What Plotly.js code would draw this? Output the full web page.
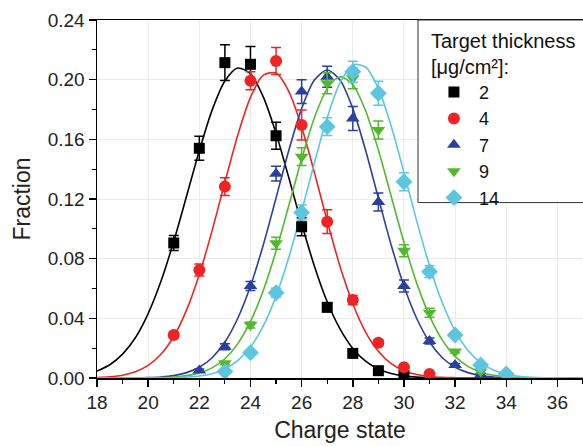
<!DOCTYPE html>
<html>
<head>
<meta charset="utf-8">
<script src="https://cdn.plot.ly/plotly-3.0.1.min.js"></script>
<style>html,body{margin:0;padding:0;background:#fff;}#chart{width:583px;height:446px;}</style>
</head>
<body>
<div id="chart"></div>
<script>
// ---- data ----
const seriesNames = ['2', '4', '7', '9', '14'];

const x2 = [21, 22, 23, 24, 25, 26, 27, 28, 29, 30];
const y2 = [0.0905, 0.154, 0.2114, 0.2103, 0.1624, 0.1014, 0.0474, 0.0165, 0.0049, 0.0016];
const e2 = [0.005, 0.008, 0.012, 0.012, 0.009, 0.006, 0.003, 0.002, 0.001, 0.001];

const x4 = [21, 22, 23, 24, 25, 26, 27, 28, 29, 30, 31];
const y4 = [0.0288, 0.0724, 0.1283, 0.1993, 0.2125, 0.1696, 0.1048, 0.0523, 0.0237, 0.0072, 0.0027];
const e4 = [0.002, 0.004, 0.006, 0.006, 0.009, 0.010, 0.008, 0.003, 0.002, 0.001, 0.001];

const x7 = [22, 23, 24, 25, 26, 27, 28, 29, 30, 31, 32, 33];
const y7 = [0.005, 0.021, 0.0617, 0.137, 0.192, 0.202, 0.174, 0.118, 0.0617, 0.0248, 0.0087, 0.002];
const e7 = [0.001, 0.002, 0.003, 0.005, 0.008, 0.007, 0.008, 0.006, 0.004, 0.002, 0.001, 0.001];

const x9 = [23, 24, 25, 26, 27, 28, 29, 30, 31, 32, 33];
const y9 = [0.0099, 0.0355, 0.0903, 0.1484, 0.1976, 0.2009, 0.1663, 0.0853, 0.0438, 0.0177, 0.0043];
const e9 = [0.001, 0.002, 0.004, 0.006, 0.007, 0.007, 0.006, 0.004, 0.003, 0.001, 0.001];

const x14 = [23, 24, 25, 26, 27, 28, 29, 30, 31, 32, 33, 34];
const y14 = [0.0043, 0.017, 0.0572, 0.111, 0.1685, 0.2053, 0.1909, 0.1316, 0.0713, 0.0288, 0.0087, 0.0027];
const e14 = [0.001, 0.001, 0.003, 0.005, 0.006, 0.007, 0.008, 0.006, 0.004, 0.002, 0.001, 0.001];

// fitted curves, values
const fitX = [18, 18.5, 19, 19.5, 20, 20.5, 21, 21.5, 22, 22.5, 23, 23.5, 24, 24.5, 25, 25.5, 26, 26.5, 27, 27.5,
              28, 28.5, 29, 29.5, 30, 30.5, 31, 31.5, 32, 32.5, 33, 33.5, 34, 34.5, 35, 35.5, 36, 36.5, 37];
const fit2 = [0.0046, 0.0089, 0.0160, 0.0270, 0.0432, 0.0648, 0.0916, 0.1218, 0.1524, 0.1796, 0.1991, 0.2078, 0.2040, 0.1885, 0.1640, 0.1342, 0.1034, 0.0750, 0.0511, 0.0329,
              0.0198, 0.0113, 0.0060, 0.0030, 0.0014, 0.0006, 0.0003, 0.0001, 0, 0, 0, 0, 0, 0, 0, 0, 0, 0, 0];
const fit4 = [0.0003, 0.0008, 0.0019, 0.0042, 0.0085, 0.0159, 0.0278, 0.0455, 0.0694, 0.0988, 0.1312, 0.1626, 0.1881, 0.2030, 0.2044, 0.1920, 0.1683, 0.1377, 0.1052, 0.0749,
              0.0498, 0.0308, 0.0179, 0.0096, 0.0049, 0.0023, 0.0010, 0.0004, 0.0002, 0.0001, 0, 0, 0, 0, 0, 0, 0, 0, 0];
const fit7 = [0, 0, 0, 0.0001, 0.0003, 0.0007, 0.0016, 0.0036, 0.0072, 0.0136, 0.0241, 0.0399, 0.0617, 0.0892, 0.1207, 0.1527, 0.1806, 0.1997, 0.2065, 0.1997,
              0.1806, 0.1527, 0.1207, 0.0892, 0.0617, 0.0399, 0.0241, 0.0136, 0.0072, 0.0036, 0.0016, 0.0007, 0.0003, 0.0001, 0, 0, 0, 0, 0];
const fit9 = [0, 0, 0, 0, 0.0001, 0.0003, 0.0007, 0.0016, 0.0034, 0.0068, 0.0129, 0.0229, 0.0379, 0.0587, 0.0851, 0.1156, 0.1468, 0.1745, 0.1940, 0.2020,
              0.1966, 0.1792, 0.1528, 0.1219, 0.0910, 0.0636, 0.0416, 0.0254, 0.0145, 0.0078, 0.0039, 0.0018, 0.0008, 0.0003, 0.0001, 0, 0, 0, 0];
const fit14 = [0, 0, 0, 0, 0, 0.0001, 0.0002, 0.0006, 0.0013, 0.0029, 0.0060, 0.0116, 0.0207, 0.0349, 0.0549, 0.0809, 0.1117, 0.1443, 0.1746, 0.1978,
               0.2099, 0.2085, 0.1940, 0.1690, 0.1378, 0.1052, 0.0753, 0.0504, 0.0316, 0.0186, 0.0102, 0.0053, 0.0025, 0.0011, 0.0005, 0.0002, 0.0001, 0, 0];

// ---- styling ----
const colors = ['#000000', '#ee2424', '#2b3f9e', '#52b82e', '#5cc6e0'];
const symbols = ['square', 'circle', 'triangle-up', 'triangle-down', 'diamond'];
const sizes = [11, 12, 12, 12, 13];

const pts = [[x2, y2, e2], [x4, y4, e4], [x7, y7, e7], [x9, y9, e9], [x14, y14, e14]];
const fits = [fit2, fit4, fit7, fit9, fit14];

const traces = [];
fits.forEach((f, i) => {
  traces.push({
    x: fitX, y: f, type: 'scatter', mode: 'lines',
    line: {color: colors[i], width: 1.6, shape: 'spline', smoothing: 0.8},
    showlegend: false, hoverinfo: 'skip'
  });
});
pts.forEach((p, i) => {
  traces.push({
    x: p[0], y: p[1], type: 'scatter', mode: 'markers', name: seriesNames[i],
    marker: {color: colors[i], symbol: symbols[i], size: sizes[i]},
    error_y: {type: 'data', array: p[2], visible: true, color: colors[i], thickness: 1.5, width: 5}
  });
});

const fontFam = 'Arial, "Liberation Sans", sans-serif';
const layout = {
  width: 583, height: 446,
  margin: {l: 97, r: 0, t: 20, b: 68},
  paper_bgcolor: '#ffffff', plot_bgcolor: '#ffffff',
  font: {family: fontFam, color: '#222', size: 20},
  xaxis: {
    range: [18, 37], tickmode: 'linear', tick0: 18, dtick: 2,
    showline: true, linecolor: '#000', linewidth: 1.5, mirror: true,
    ticks: 'outside', ticklen: 7, tickwidth: 1.5, tickcolor: '#000',
    minor: {dtick: 1, ticks: 'outside', ticklen: 4, tickwidth: 1.2, tickcolor: '#000', showgrid: false},
    showgrid: true, gridcolor: '#ebebeb', gridwidth: 1, zeroline: false,
    tickfont: {family: fontFam, size: 19, color: '#222'},
    title: {text: 'Charge state', font: {family: fontFam, size: 23, color: '#222'}, standoff: 9}
  },
  yaxis: {
    range: [0, 0.24], tickmode: 'linear', tick0: 0, dtick: 0.04, tickformat: '.2f',
    showline: true, linecolor: '#000', linewidth: 1.5, mirror: true,
    ticks: 'outside', ticklen: 7, tickwidth: 1.5, tickcolor: '#000',
    minor: {dtick: 0.02, ticks: 'outside', ticklen: 4, tickwidth: 1.2, tickcolor: '#000', showgrid: false},
    showgrid: true, gridcolor: '#ebebeb', gridwidth: 1, zeroline: false,
    tickfont: {family: fontFam, size: 19, color: '#222'},
    title: {text: 'Fraction', font: {family: fontFam, size: 23, color: '#222'}, standoff: 10}
  },
  shapes: [{
    type: 'rect', xref: 'paper', yref: 'paper',
    x0: 0.6605, x1: 1.05, y0: 0.49, y1: 1,
    line: {color: '#333', width: 1}, fillcolor: '#ffffff', layer: 'above'
  }],
  legend: {
    x: 0.683, xanchor: 'left', y: 0.995, yanchor: 'top',
    bgcolor: 'rgba(0,0,0,0)', borderwidth: 0,
    font: {family: fontFam, size: 18, color: '#111'},
    title: {text: 'Target thickness<br>[μg/cm²]:', font: {family: fontFam, size: 20, color: '#111'}},
    tracegroupgap: 0, itemwidth: 40
  }
};

Plotly.newPlot('chart', traces, layout, {displayModeBar: false, staticPlot: true});
</script>
</body>
</html>
